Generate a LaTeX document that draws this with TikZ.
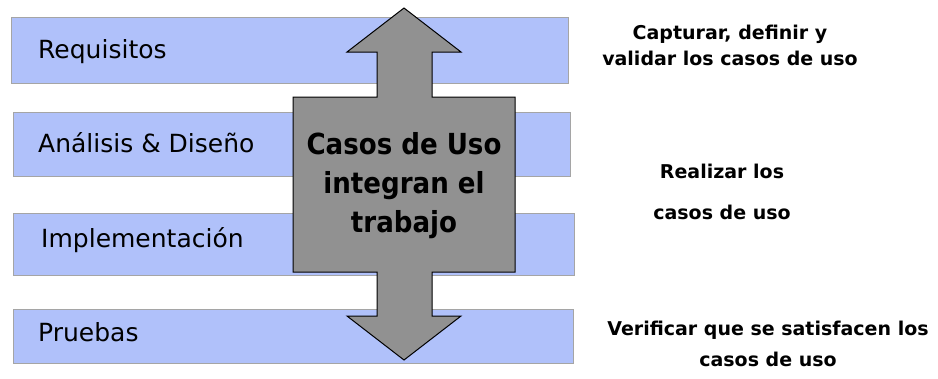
\documentclass[tikz,border=0pt]{standalone}
\usepackage{fontspec}
\setmainfont{DejaVu Sans Condensed}
\newfontfamily\widefont{DejaVu Sans}
\usetikzlibrary{positioning}
\usepackage{xcolor}
\definecolor{barblue}{RGB}{176,193,250}
\definecolor{bargray}{RGB}{165,165,165}
\definecolor{arrowgray}{RGB}{145,145,145}

\begin{document}
\begin{tikzpicture}[x=1pt, y=-1pt]
            \tikzstyle{phase}=[shape=rectangle, fill=barblue, draw=bargray, line width=1pt, inner sep=0pt, anchor=north west];
            \tikzstyle{phaselabel}=[anchor=west, inner sep=0pt, font=\widefont\fontsize{25}{29}\selectfont];
            \tikzstyle{note}=[align=center, inner sep=0pt];

            \useasboundingbox[fill=white] (0,0) rectangle (938,378);

            \node[phase, minimum width=557, minimum height=66](Req) at (11,17) {};
            \node[phase, minimum width=557, minimum height=64](Ana) at (13,112) {};
            \node[phase, minimum width=561, minimum height=62](Imp) at (13,213) {};
            \node[phase, minimum width=560, minimum height=54](Pru) at (13,309) {};

            \node[phaselabel](ReqL) at (38,52) {Requisitos};
            \node[phaselabel](AnaL) at (38,143) {Análisis \& Diseño};
            \node[phaselabel](ImpL) at (41,240) {Implementación};
            \node[phaselabel](PruL) at (38,332) {Pruebas};

            \draw[fill=arrowgray, draw=black, line width=1pt]
                (404,8) -- (461,52) -- (432,52) -- (432,97) -- (515,97) -- (515,272)
                -- (432,272) -- (432,316) -- (461,316) -- (404,360) -- (347,316)
                -- (377,316) -- (377,272) -- (293,272) -- (293,97) -- (377,97)
                -- (377,52) -- (347,52) -- cycle;
            \node[align=center, inner sep=0pt, font=\bfseries\fontsize{29}{39}\selectfont](Uso) at (404,186)
                {Casos de Uso\\integran el\\trabajo};

            \node[note, font=\widefont\bfseries\fontsize{19}{26}\selectfont](CapN) at (730,45) {Capturar, definir y\\validar los casos de uso};
            \node[note, font=\widefont\bfseries\fontsize{19}{41}\selectfont](RealN) at (722,192) {Realizar los\\casos de uso};
            \node[note, font=\widefont\bfseries\fontsize{19}{31}\selectfont](VerN) at (768,344) {Verificar que se satisfacen los\\casos de uso};
\end{tikzpicture}
\end{document}
